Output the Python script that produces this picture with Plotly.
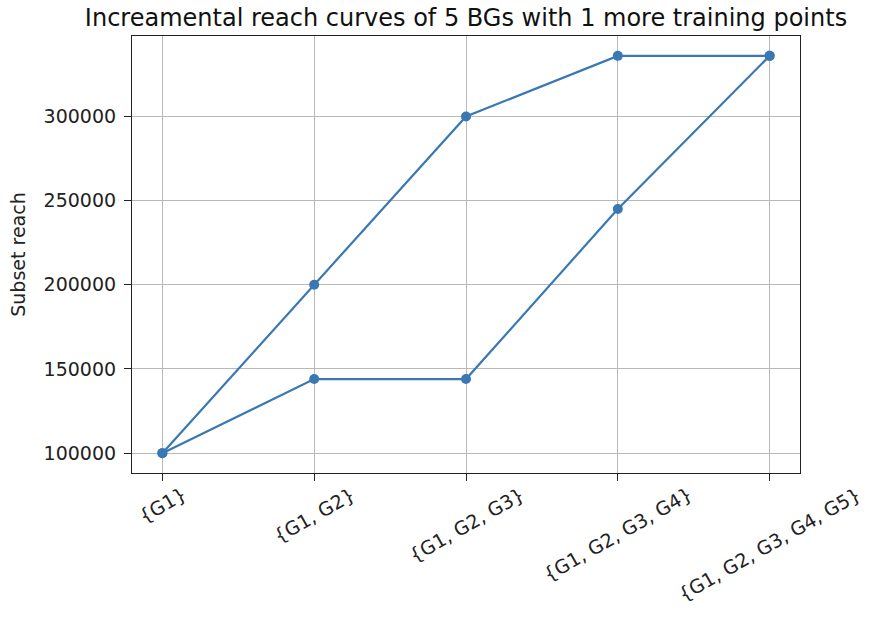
import plotly.graph_objects as go

categories = ["{G1}", "{G1, G2}", "{G1, G2, G3}", "{G1, G2, G3, G4}", "{G1, G2, G3, G4, G5}"]
reach_upper = [100000, 200000, 300000, 336000, 336000]
reach_lower = [100000, 144000, 144000, 245000, 336000]
y_ticks = [100000, 150000, 200000, 250000, 300000]

color = "#3a78b4"
fig = go.Figure()
for vals in (reach_upper, reach_lower):
    fig.add_trace(go.Scatter(x=categories, y=vals, mode="lines+markers",
                             line=dict(color=color, width=2.2),
                             marker=dict(color=color, size=10),
                             showlegend=False))

ymin = min(reach_upper + reach_lower)
ymax = max(reach_upper + reach_lower)
pad = 0.05 * (ymax - ymin)
font = "DejaVu Sans"
W, H = 874, 618
L, R, T, B = 132, 74, 36, 145
axis_common = dict(showline=True, mirror=True, linecolor="#222", linewidth=1.2,
                   showgrid=True, gridcolor="#b8b8b8", gridwidth=1,
                   ticks="outside", ticklen=7, tickcolor="#222", zeroline=False)
fig.update_layout(
    width=W, height=H,
    margin=dict(l=L, r=R, t=T, b=B),
    paper_bgcolor="white", plot_bgcolor="white",
    font=dict(family=font, color="#222", size=19),
    title=dict(text="Increamental reach curves of 5 BGs with 1 more training points",
               x=(L + (W - R)) / 2 / W, xanchor="center", y=1 - 18 / H, yanchor="middle",
               font=dict(size=24, family=font, color="#111")),
    xaxis=dict(type="category", range=[-0.2, 4.2], showticklabels=False, **axis_common),
    yaxis=dict(range=[ymin - pad, ymax + pad], tickvals=y_ticks, tickformat="d",
               title=dict(text="Subset reach", font=dict(size=19), standoff=12),
               tickfont=dict(size=19), ticklabelstandoff=4, **axis_common),
)
for c in categories:
    fig.add_annotation(x=c, y=0, xref="x", yref="paper", text=c, showarrow=False,
                       textangle=-30, xanchor="center", yanchor="top", yshift=-7,
                       font=dict(size=19, family=font, color="#222"))
fig.write_html("out.html", config={"displayModeBar": False},
               post_script="document.body.style.margin='0';")
